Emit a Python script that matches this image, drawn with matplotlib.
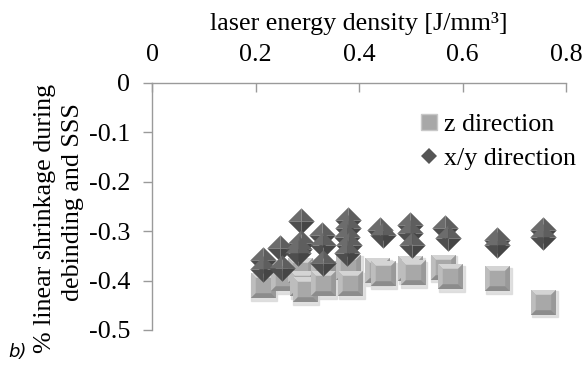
import numpy as np
import matplotlib
matplotlib.use("Agg")
import matplotlib.pyplot as plt
from matplotlib.path import Path
from matplotlib.lines import Line2D
from matplotlib.transforms import offset_copy

# shrinkage in z direction
z_energy = [0.214, 0.253, 0.286, 0.290, 0.295, 0.330, 0.330, 0.379, 0.383,
            0.435, 0.446, 0.499, 0.504, 0.562, 0.576, 0.667, 0.756]
z_shrink = [-0.409, -0.395, -0.378, -0.405, -0.418, -0.385, -0.405, -0.372, -0.405,
            -0.379, -0.385, -0.375, -0.383, -0.372, -0.391, -0.395, -0.443]

# shrinkage in x/y direction
xy_energy = [0.214, 0.214, 0.247, 0.251, 0.288, 0.288, 0.284, 0.282, 0.328, 0.330,
             0.330, 0.379, 0.379, 0.377, 0.380, 0.377, 0.441, 0.446, 0.499, 0.499,
             0.502, 0.567, 0.572, 0.667, 0.667, 0.756, 0.756]
xy_shrink = [-0.358, -0.377, -0.334, -0.375, -0.279, -0.324, -0.336, -0.344, -0.308, -0.328,
             -0.364, -0.277, -0.294, -0.312, -0.328, -0.344, -0.298, -0.308, -0.287, -0.304,
             -0.328, -0.294, -0.313, -0.318, -0.328, -0.298, -0.312]

x_ticks = [0, 0.2, 0.4, 0.6, 0.8]
y_ticks = [0, -0.1, -0.2, -0.3, -0.4, -0.5]

plt.rcParams['font.family'] = ['Liberation Serif', 'DejaVu Serif']
FS = 18.7

fig = plt.figure(figsize=(5.86, 3.68), dpi=100)
ax = fig.add_axes([0.2594, 0.1033, 0.7065, 0.6712])
ax.set_xlim(0, 0.8)
ax.set_ylim(-0.5, 0)

spine_c = '#9a9a9a'
for s in ['right', 'bottom']:
    ax.spines[s].set_visible(False)
for s in ['left', 'top']:
    ax.spines[s].set_color(spine_c)
    ax.spines[s].set_linewidth(1.0)

ax.xaxis.tick_top()
ax.xaxis.set_label_position('top')
ax.set_xticks(x_ticks)
ax.set_xticklabels(['0', '0.2', '0.4', '0.6', '0.8'])
ax.set_yticks(y_ticks)
ax.set_yticklabels(['0', '-0.1', '-0.2', '-0.3', '-0.4', '-0.5'])
ax.tick_params(axis='x', direction='in', length=6.5, width=1, color=spine_c,
               labelsize=FS, pad=12)
ax.tick_params(axis='y', direction='out', length=6.5, width=1, color=spine_c,
               labelsize=FS, pad=9)
ax.set_xlabel('laser energy density [J/mm³]', fontsize=FS, labelpad=10)

# two-line y axis title
fig.text(45 / 586, 1 - 218 / 368, '% linear shrinkage during', rotation=90,
         fontsize=FS, ha='center', va='center')
fig.text(73 / 586, 1 - 202 / 368, 'debinding and SSS', rotation=90,
         fontsize=FS, ha='center', va='center')

# bevelled marker facets
sq_top = Path([(-1, 1), (1, 1), (0.62, 0.62), (-0.62, 0.62), (-1, 1)],
              [Path.MOVETO, Path.LINETO, Path.LINETO, Path.LINETO, Path.CLOSEPOLY])
sq_left = Path([(-1, 1), (-0.62, 0.62), (-0.62, -0.62), (-1, -1), (-1, 1)],
               [Path.MOVETO, Path.LINETO, Path.LINETO, Path.LINETO, Path.CLOSEPOLY])
sq_right = Path([(1, 1), (1, -1), (0.62, -0.62), (0.62, 0.62), (1, 1)],
                [Path.MOVETO, Path.LINETO, Path.LINETO, Path.LINETO, Path.CLOSEPOLY])
sq_bot = Path([(-1, -1), (-0.62, -0.62), (0.62, -0.62), (1, -1), (-1, -1)],
              [Path.MOVETO, Path.LINETO, Path.LINETO, Path.LINETO, Path.CLOSEPOLY])

d_tl = Path([(-1, 0), (0, 1), (0, 0), (-1, 0)],
            [Path.MOVETO, Path.LINETO, Path.LINETO, Path.CLOSEPOLY])
d_tr = Path([(0, 1), (1, 0), (0, 0), (0, 1)],
            [Path.MOVETO, Path.LINETO, Path.LINETO, Path.CLOSEPOLY])
d_bl = Path([(-1, 0), (0, -1), (0, 0), (-1, 0)],
            [Path.MOVETO, Path.LINETO, Path.LINETO, Path.CLOSEPOLY])
d_br = Path([(0, -1), (1, 0), (0, 0), (0, -1)],
            [Path.MOVETO, Path.LINETO, Path.LINETO, Path.CLOSEPOLY])

sq_size = 18
d_size = 19
shadow = offset_copy(ax.transData, fig=fig, x=1.5, y=-2.5, units='dots')

# squares (z direction), drawn one at a time so overlaps stack correctly
for xv, yv in zip(z_energy, z_shrink):
    ax.plot([xv], [yv], linestyle='none', marker='s', markersize=sq_size + 1,
            color='#d9d9d9', alpha=0.8, transform=shadow, zorder=2)
    ax.plot([xv], [yv], linestyle='none', marker='s', markersize=sq_size,
            color='#a8a8a8', markeredgewidth=0, zorder=3)
    ax.plot([xv], [yv], linestyle='none', marker=sq_top, markersize=sq_size,
            color='#d4d4d4', markeredgewidth=0, zorder=3)
    ax.plot([xv], [yv], linestyle='none', marker=sq_left, markersize=sq_size,
            color='#bdbdbd', markeredgewidth=0, zorder=3)
    ax.plot([xv], [yv], linestyle='none', marker=sq_right, markersize=sq_size,
            color='#999999', markeredgewidth=0, zorder=3)
    ax.plot([xv], [yv], linestyle='none', marker=sq_bot, markersize=sq_size,
            color='#8c8c8c', markeredgewidth=0, zorder=3)

# diamonds (x/y direction)
for xv, yv in zip(xy_energy, xy_shrink):
    ax.plot([xv], [yv], linestyle='none', marker=d_tl, markersize=d_size,
            color='#6c6c6c', markeredgewidth=0, zorder=4)
    ax.plot([xv], [yv], linestyle='none', marker=d_tr, markersize=d_size,
            color='#5e5e5e', markeredgewidth=0, zorder=4)
    ax.plot([xv], [yv], linestyle='none', marker=d_bl, markersize=d_size,
            color='#4e4e4e', markeredgewidth=0, zorder=4)
    ax.plot([xv], [yv], linestyle='none', marker=d_br, markersize=d_size,
            color='#454545', markeredgewidth=0, zorder=4)

handles = [
    Line2D([], [], linestyle='none', marker='s', markersize=11.5, color='#a8a8a8',
           markeredgecolor='#c8c8c8', markeredgewidth=1),
    Line2D([], [], linestyle='none', marker='D', markersize=8.2, color='#555555',
           markeredgewidth=0),
]
ax.legend(handles, ['z direction', 'x/y direction'], loc='upper left',
          bbox_to_anchor=(0.62, 0.93), frameon=False, fontsize=FS,
          handlelength=0.6, handletextpad=0.25, labelspacing=0.4, borderpad=0)

fig.text(0.014, 0.03, 'b)', fontsize=13, style='italic', family='DejaVu Sans')

fig.savefig('out.png', dpi=100)
